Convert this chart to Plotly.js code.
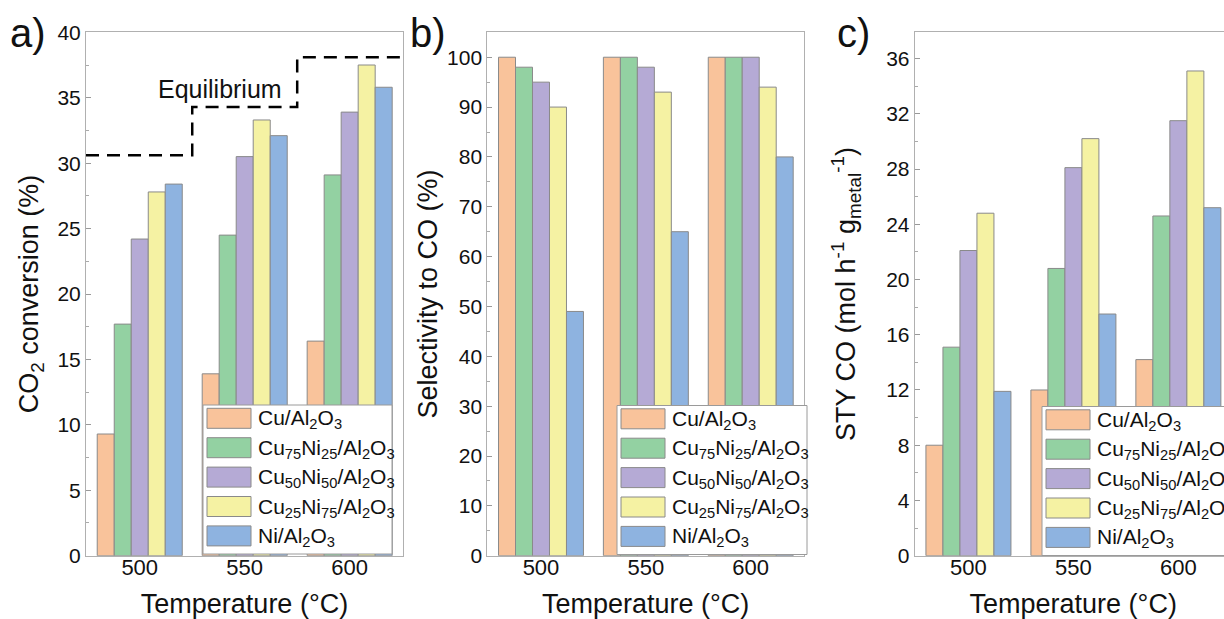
<!DOCTYPE html>
<html>
<head>
<meta charset="utf-8">
<script src="https://cdn.plot.ly/plotly-3.0.1.min.js"></script>
<style>
html,body{margin:0;padding:0;overflow:hidden;background:#fff;}
#chart{width:1236px;height:619px;}
</style>
</head>
<body>
<div id="chart"></div>
<script>
// ---------- data ----------
const temperatures = [500, 550, 600];
const tickLabels = ['500', '550', '600'];
const catalysts = [
  'Cu/Al<sub>2</sub>O<sub>3</sub>',
  'Cu<sub>75</sub>Ni<sub>25</sub>/Al<sub>2</sub>O<sub>3</sub>',
  'Cu<sub>50</sub>Ni<sub>50</sub>/Al<sub>2</sub>O<sub>3</sub>',
  'Cu<sub>25</sub>Ni<sub>75</sub>/Al<sub>2</sub>O<sub>3</sub>',
  'Ni/Al<sub>2</sub>O<sub>3</sub>'
];
const colors = ['#F9C39B', '#93D1A2', '#B5AAD5', '#F5F2A3', '#8EB3E0'];

// a) CO2 conversion (%)
const conversion = [
  [9.3, 13.9, 16.4],
  [17.7, 24.5, 29.1],
  [24.2, 30.5, 33.9],
  [27.8, 33.3, 37.5],
  [28.4, 32.1, 35.8]
];
const equilibrium = [30.6, 34.3, 38.1];

// b) Selectivity to CO (%)
const selectivity = [
  [100, 100, 100],
  [98, 100, 100],
  [95, 98, 100],
  [90, 93, 94],
  [49, 65, 80]
];

// c) STY CO (mol h-1 gmetal-1)
const sty = [
  [8.0, 12.0, 14.2],
  [15.1, 20.8, 24.6],
  [22.1, 28.1, 31.5],
  [24.8, 30.2, 35.1],
  [11.9, 17.5, 25.2]
];

// ---------- layout helpers ----------
const W = 1236, H = 619;
const px = v => v / W;
const py = v => 1 - v / H;
const FONT = 'Liberation Sans, Arial, Helvetica, sans-serif';
const xRange = [474.4, 625.4];

const traces = [];
function addBars(values, xa, ya) {
  values.forEach((vals, i) => {
    traces.push({
      type: 'bar', x: temperatures, y: vals, xaxis: xa, yaxis: ya,
      name: catalysts[i], showlegend: false, hoverinfo: 'x+y+name',
      marker: {color: colors[i], line: {color: '#8a8a8a', width: 1}}
    });
  });
}
addBars(conversion, 'x', 'y');
addBars(selectivity, 'x2', 'y2');
addBars(sty, 'x3', 'y3');

// equilibrium step line (steps halfway between temperatures)
traces.push({
  type: 'scatter', mode: 'lines', xaxis: 'x', yaxis: 'y', showlegend: false,
  x: [xRange[0]].concat(temperatures, [xRange[1]]),
  y: [equilibrium[0]].concat(equilibrium, [equilibrium[equilibrium.length - 1]]),
  line: {shape: 'hvh', color: '#000', width: 2.5, dash: '13px,8px'},
  cliponaxis: false, hoverinfo: 'skip'
});

function xAxis(domain, anchor) {
  return {
    domain: domain, anchor: anchor, range: xRange, type: 'linear',
    tickvals: temperatures, ticktext: tickLabels, ticks: '',
    showline: true, mirror: true, linecolor: '#b0b0b0', linewidth: 1,
    showgrid: false, zeroline: false, ticklabelstandoff: -8,
    tickfont: {family: FONT, size: 22, color: '#111'},
    title: {text: 'Temperature (°C)', font: {family: FONT, size: 27, color: '#111'}, standoff: 25}
  };
}
function yAxis(range, dtick, title, anchor, standoff) {
  return {
    domain: [py(555.7), py(32.3)], anchor: anchor, range: range, dtick: dtick, tick0: 0,
    ticks: 'inside', ticklen: 5, tickcolor: '#999', tickwidth: 1,
    minor: {ticks: 'inside', ticklen: 3, tickcolor: '#aaa', dtick: dtick / 2, showgrid: false},
    showline: true, mirror: true, linecolor: '#b0b0b0', linewidth: 1,
    showgrid: false, zeroline: false, ticklabelstandoff: 0,
    tickfont: {family: FONT, size: 21, color: '#111'},
    title: {text: title, font: {family: FONT, size: 27, color: '#111'}, standoff: standoff}
  };
}

const shapes = [];
const annotations = [];
function addLegend(left, top, width) {
  const height = 149, pitch = 29.4;
  shapes.push({type: 'rect', xref: 'paper', yref: 'paper', layer: 'above',
    x0: px(left), x1: px(left + width), y0: py(top + height), y1: py(top),
    fillcolor: '#fff', line: {color: '#9a9a9a', width: 1}});
  catalysts.forEach((name, i) => {
    const t = top + 3.3 + i * pitch;
    shapes.push({type: 'rect', xref: 'paper', yref: 'paper', layer: 'above',
      x0: px(left + 4), x1: px(left + 48), y0: py(t + 20), y1: py(t),
      fillcolor: colors[i], line: {color: '#8a8a8a', width: 1}});
    annotations.push({xref: 'paper', yref: 'paper', x: px(left + 53), y: py(t + 11),
      xanchor: 'left', yanchor: 'middle', showarrow: false, text: name,
      font: {family: FONT, size: 21, color: '#111'}});
  });
}
addLegend(203, 405, 189);
addLegend(617, 405.5, 190);
addLegend(1042, 406.5, 190);

[['a)', 8], ['b)', 408], ['c)', 835]].forEach(([t, x]) => {
  annotations.push({xref: 'paper', yref: 'paper', x: px(x), y: py(33), xanchor: 'left', yanchor: 'middle',
    showarrow: false, text: t, font: {family: FONT, size: 40, color: '#111'}});
});
annotations.push({xref: 'x', yref: 'y', x: 538, y: 35.7, text: 'Equilibrium', showarrow: false,
  font: {family: FONT, size: 25, color: '#111'}});

const layout = {
  width: W, height: H, margin: {l: 0, r: 0, t: 0, b: 0},
  paper_bgcolor: '#fff', plot_bgcolor: '#fff',
  barmode: 'group', bargap: 0.19, bargroupgap: 0,
  showlegend: false,
  xaxis: xAxis([px(86), px(403)], 'y'),
  xaxis2: xAxis([px(487.3), px(804)], 'y2'),
  xaxis3: xAxis([px(914.7), px(1231.7)], 'y3'),
  yaxis: yAxis([0, 40], 5, 'CO<sub>2</sub> conversion (%)', 'x', 10),
  yaxis2: yAxis([0, 105], 10, 'Selectivity to CO (%)', 'x2', 1),
  yaxis3: yAxis([0, 37.9], 4, 'STY CO (mol h<sup>-1</sup> g<sub>metal</sub><sup>-1</sup>)', 'x3', 22),
  shapes: shapes, annotations: annotations,
  font: {family: FONT}
};

Plotly.newPlot('chart', traces, layout, {displayModeBar: false, responsive: false, staticPlot: true});
</script>
</body>
</html>
